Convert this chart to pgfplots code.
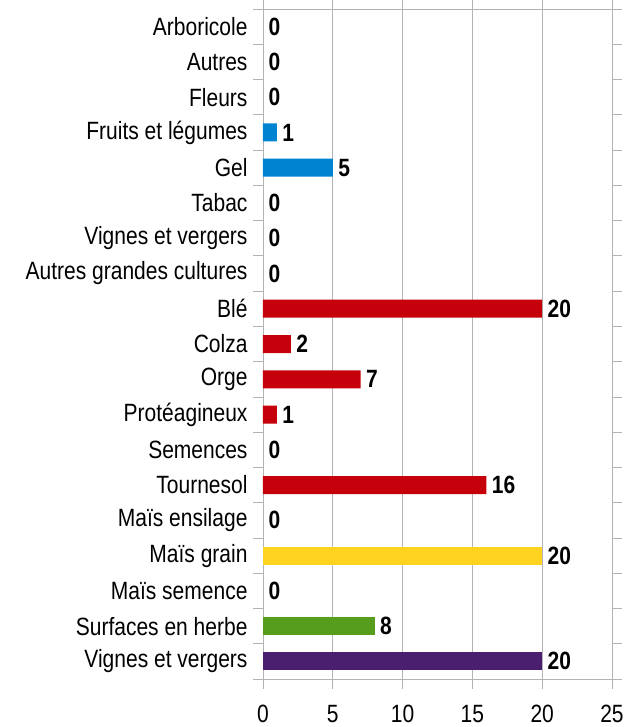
\documentclass[border=0pt]{standalone}
\usepackage{pgfplots}
\pgfplotsset{compat=1.18}
\usepackage{fontspec}
\setmainfont{Liberation Sans}[FakeStretch=0.84]
\definecolor{cblue}{HTML}{0084D1}
\definecolor{cred}{HTML}{C5000B}
\definecolor{cyellow}{HTML}{FFD320}
\definecolor{cgreen}{HTML}{579D1C}
\definecolor{cpurple}{HTML}{4B1F6F}
\definecolor{cgrid}{HTML}{B3B3B3}
\begin{document}
\begin{tikzpicture}
\useasboundingbox (-263bp,-48bp) rectangle (368bp,679bp);
\begin{axis}[
  at={(0,0)}, anchor=south west,
  scale only axis, width=349bp, height=670bp,
  xbar, bar width=18bp, bar shift=0pt,
  xmin=0, xmax=25, ymin=-0.5, ymax=18.5, y dir=reverse,
  xtick={0,5,...,25},
  ytick={-0.5,0.5,...,18.5}, yticklabels={},
  extra y ticks={0,1,...,18},
  extra y tick labels={Arboricole,Autres,Fleurs,Fruits et légumes,Gel,Tabac,Vignes et vergers,Autres grandes cultures,Blé,Colza,Orge,Protéagineux,Semences,Tournesol,Maïs ensilage,Maïs grain,Maïs semence,Surfaces en herbe,Vignes et vergers},
  extra y tick style={major tick length=0pt, yticklabel style={xshift=-12bp}},
  xmajorgrids, grid style={color=cgrid, line width=0.8bp},
  axis line style={cgrid, line width=0.8bp},
  tick align=outside, major tick length=10bp,
  tick style={cgrid, line width=0.8bp},
  /pgf/number format/assume math mode=true,
  tick label style={font=\fontsize{25bp}{29bp}\selectfont, black},
  xticklabel style={yshift=-13bp},
  nodes near coords,
  every node near coord/.append style={font=\fontsize{25bp}{29bp}\selectfont\bfseries, black, anchor=west, xshift=2bp},
]
\addplot[draw=none, fill=none] coordinates {(0,0) (0,1) (0,2) (0,5) (0,6) (0,7) (0,12) (0,14) (0,16)};
\addplot[draw=none, fill=cblue] coordinates {(1,3) (5,4)};
\addplot[draw=none, fill=cred] coordinates {(20,8) (2,9) (7,10) (1,11) (16,13)};
\addplot[draw=none, fill=cyellow] coordinates {(20,15)};
\addplot[draw=none, fill=cgreen] coordinates {(8,17)};
\addplot[draw=none, fill=cpurple] coordinates {(20,18)};
\end{axis}
\end{tikzpicture}
\end{document}
